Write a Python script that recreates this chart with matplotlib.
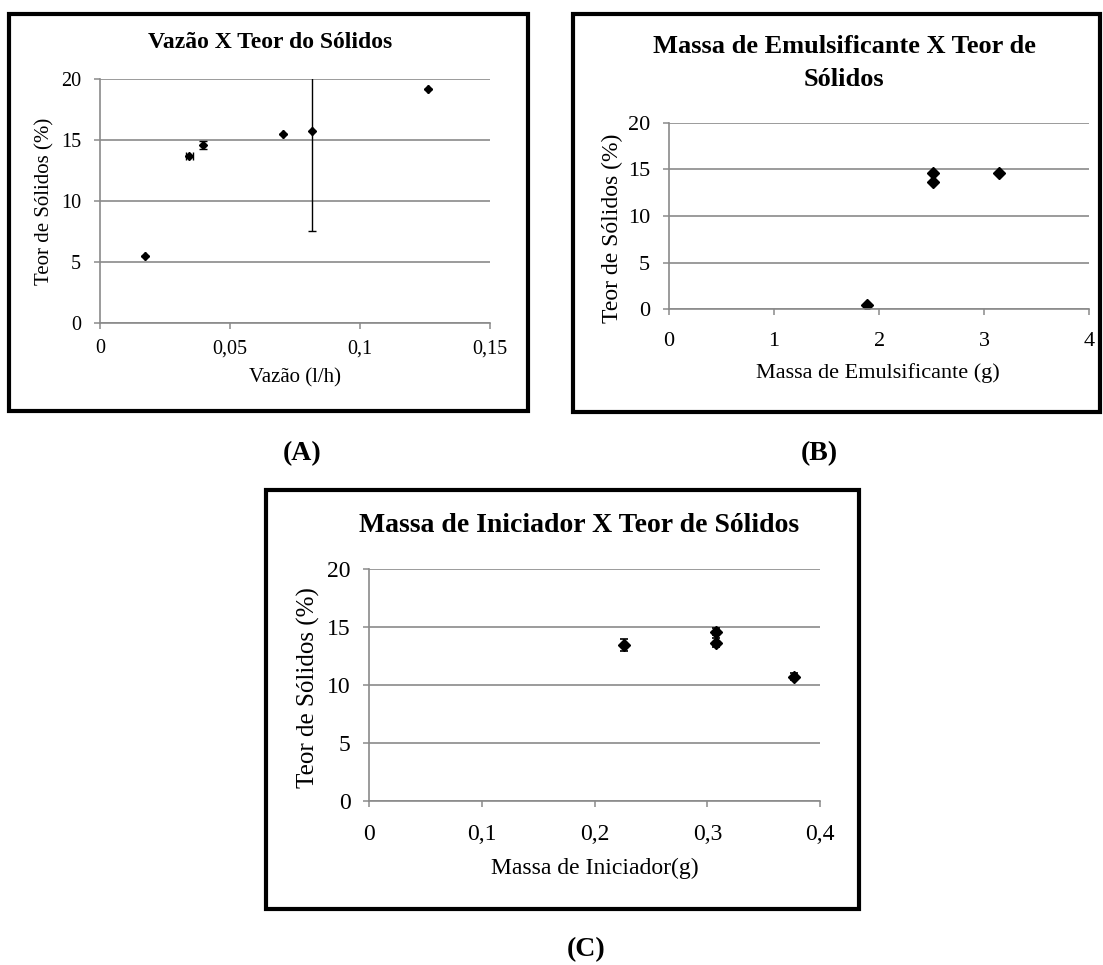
import matplotlib.pyplot as plt
from matplotlib.patches import Rectangle

# data
vazao = [0.0173, 0.0344, 0.0395, 0.0705, 0.0814, 0.126]
teor_a = [5.5, 13.7, 14.6, 15.5, 15.75, 19.2]
erro_a = [0, 0, 0.35, 0, 8.2, 0]
erro_xa = [0, 0.0012, 0, 0, 0, 0]

massa_emul = [1.88, 2.51, 2.515, 3.14]
teor_b = [0.46, 14.57, 13.6, 14.65]

massa_inic = [0.226, 0.3075, 0.308, 0.377]
teor_c = [13.45, 14.6, 13.65, 10.7]
erro_c = [0.5, 0.3, 0.4, 0.3]

ticks_a = [0, 0.05, 0.1, 0.15]
ticklabels_a = ['0', '0,05', '0,1', '0,15']
ticks_b = [0, 1, 2, 3, 4]
ticks_c = [0, 0.1, 0.2, 0.3, 0.4]
ticklabels_c = ['0', '0,1', '0,2', '0,3', '0,4']
yticks = [0, 5, 10, 15, 20]

W, H = 1103, 965
FONT = 'Liberation Serif'
GRAY = '#8a8a8a'

plt.rcParams['font.family'] = FONT
fig = plt.figure(figsize=(W / 100, H / 100), dpi=100)
fig.patch.set_facecolor('white')


def px_axes(x0, y0, x1, y1):
    return fig.add_axes([x0 / W, 1 - y1 / H, (x1 - x0) / W, (y1 - y0) / H])


def frame(x0, y0, x1, y1):
    fig.add_artist(Rectangle((x0 / W, 1 - y1 / H), (x1 - x0) / W, (y1 - y0) / H,
                             transform=fig.transFigure, fill=False,
                             lw=3, ec='black'))


def text(x, y, s, size, bold=False, rot=0, **kw):
    fig.text(x / W, 1 - y / H, s, ha='center', va='center', fontsize=size,
             fontweight='bold' if bold else 'normal', rotation=rot,
             family=FONT, **kw)


def style(ax, xlim, xticks, xlabels, size, xpad, ypad):
    ax.set_xlim(*xlim)
    ax.set_ylim(0, 20)
    ax.set_xticks(xticks)
    ax.set_xticklabels(xlabels)
    ax.set_yticks(yticks)
    ax.set_yticklabels([str(t) for t in yticks])
    ax.yaxis.grid(True, color=GRAY, lw=1.2)
    ax.set_axisbelow(True)
    for s in ['top', 'right']:
        ax.spines[s].set_visible(False)
    for s in ['left', 'bottom']:
        ax.spines[s].set_color(GRAY)
        ax.spines[s].set_linewidth(1.2)
    ax.tick_params(direction='out', length=4.5, width=1.1, color=GRAY,
                   labelsize=size)
    ax.tick_params(axis='x', pad=xpad)
    ax.tick_params(axis='y', pad=ypad)


# (A)
frame(9, 14, 528, 411)
ax = px_axes(100, 79.3, 490, 323.3)
style(ax, (0, 0.15), ticks_a, ticklabels_a, 14.5, 7, 9)
ax.errorbar(vazao, teor_a, yerr=erro_a, xerr=erro_xa, fmt='D', color='black',
            ms=4.5, elinewidth=1.0, capsize=2.8, capthick=1.0)
text(270, 42, 'Vazão X Teor do Sólidos', 17, bold=True)
text(295, 378, 'Vazão (l/h)', 15)
text(45, 201, 'Teor de Sólidos (%)', 15, rot=90)

# (B)
frame(573, 14, 1100, 412)
ax = px_axes(669, 122.7, 1089.4, 309.3)
style(ax, (0, 4), ticks_b, [str(t) for t in ticks_b], 16, 12, 9)
ax.plot(massa_emul, teor_b, 'D', color='black', ms=6)
text(844, 63, 'Massa de Emulsificante X Teor de\nSólidos', 19, bold=True,
     linespacing=1.55)
text(878, 373, 'Massa de Emulsificante (g)', 16)
text(612, 228, 'Teor de Sólidos (%)', 17, rot=90)

# (C)
frame(266, 490, 859, 909)
ax = px_axes(369.3, 569.3, 820, 800.7)
style(ax, (0, 0.4), ticks_c, ticklabels_c, 17, 12, 9)
ax.errorbar(massa_inic, teor_c, yerr=erro_c, fmt='D', color='black',
            ms=5.8, elinewidth=1.2, capsize=3.2, capthick=1.2)
text(579, 525, 'Massa de Iniciador X Teor de Sólidos', 20, bold=True)
text(595, 868, 'Massa de Iniciador(g)', 17)
text(308, 688, 'Teor de Sólidos (%)', 18, rot=90)

# panel letters
text(302, 454, '(A)', 20, bold=True)
text(819, 454, '(B)', 20, bold=True)
text(586, 950, '(C)', 20, bold=True)

fig.savefig('out.png', dpi=100, facecolor='white')
